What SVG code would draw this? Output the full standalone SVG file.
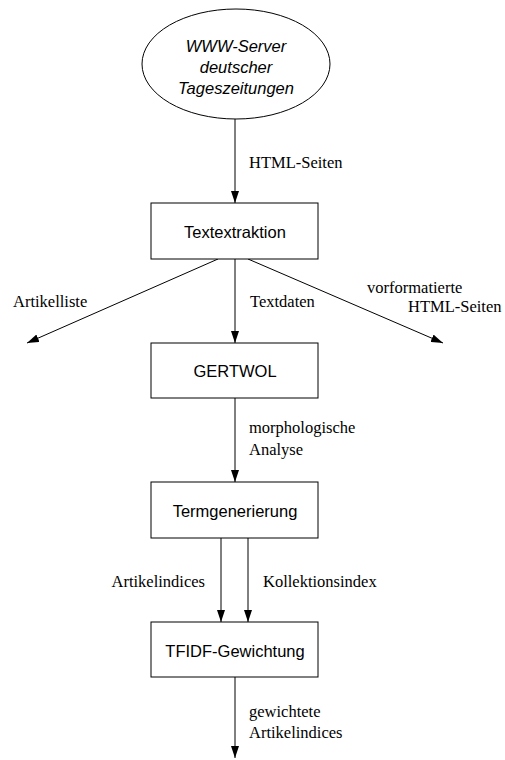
<svg xmlns="http://www.w3.org/2000/svg" width="505" height="760" viewBox="0 0 505 760">
<style>
.node{fill:#fff;stroke:#000;stroke-width:1}
.nt{font-family:"Liberation Sans",Arial,sans-serif;font-size:16.5px;text-anchor:middle;fill:#000}
.it{font-style:italic}
.lbl{font-family:"Liberation Serif","Times New Roman",serif;font-size:16.5px;fill:#000}
.edge{stroke:#000;stroke-width:1;fill:none;marker-end:url(#ah)}
</style>
<defs>
<marker id="ah" markerWidth="12" markerHeight="8" refX="12" refY="4" orient="auto" markerUnits="userSpaceOnUse">
<path d="M0,0 L12,4 L0,8 Z" fill="#000"/>
</marker>
</defs>
<rect width="505" height="760" fill="#fff"/>
<g id="connectors">
<line class="edge" x1="235" y1="119" x2="235" y2="203"/>
<line class="edge" x1="218" y1="259" x2="27" y2="343"/>
<line class="edge" x1="235" y1="259" x2="235" y2="343"/>
<line class="edge" x1="248" y1="259" x2="443" y2="343"/>
<line class="edge" x1="235" y1="398" x2="235" y2="482"/>
<line class="edge" x1="221" y1="538" x2="221" y2="622"/>
<line class="edge" x1="248" y1="538" x2="248" y2="622"/>
<line class="edge" x1="235" y1="677" x2="235" y2="758"/>
<text class="lbl" x="249" y="168">HTML-Seiten</text>
<text class="lbl" x="13" y="307">Artikelliste</text>
<text class="lbl" x="250" y="307">Textdaten</text>
<text class="lbl" x="367" y="293">vorformatierte</text>
<text class="lbl" x="408" y="312">HTML-Seiten</text>
<text class="lbl" x="249" y="433">morphologische</text>
<text class="lbl" x="249" y="455">Analyse</text>
<text class="lbl" x="205" y="587" text-anchor="end">Artikelindices</text>
<text class="lbl" x="263" y="587">Kollektionsindex</text>
<text class="lbl" x="249" y="717">gewichtete</text>
<text class="lbl" x="249" y="738">Artikelindices</text>
</g>
<g id="www">
<ellipse class="node" cx="236" cy="64" rx="94" ry="55"/>
<text class="nt it" x="236" y="52">WWW-Server</text>
<text class="nt it" x="236" y="73">deutscher</text>
<text class="nt it" x="236" y="94">Tageszeitungen</text>
</g>
<g id="textextraktion">
<rect class="node" x="151" y="203" width="167" height="56"/>
<text class="nt" x="235" y="238">Textextraktion</text>
</g>
<g id="gertwol">
<rect class="node" x="151" y="343" width="167" height="55"/>
<text class="nt" x="235" y="377">GERTWOL</text>
</g>
<g id="termgenerierung">
<rect class="node" x="151" y="482" width="167" height="56"/>
<text class="nt" x="235" y="517">Termgenerierung</text>
</g>
<g id="tfidf">
<rect class="node" x="151" y="622" width="167" height="55"/>
<text class="nt" x="235" y="657">TFIDF-Gewichtung</text>
</g>
</svg>
